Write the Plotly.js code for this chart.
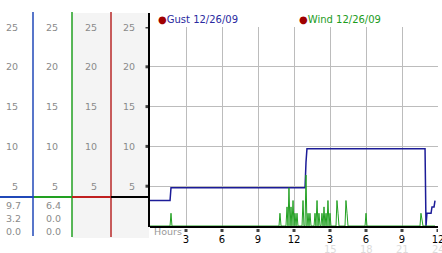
<!DOCTYPE html>
<html>
<head>
<meta charset="utf-8">
<script src="https://cdn.plot.ly/plotly-3.0.1.min.js"></script>
<style>
  html, body { margin: 0; padding: 0; background: #fff; }
  #chart { width: 442px; height: 253px; }
</style>
</head>
<body>
<div id="chart"></div>
<script>
// ---- data ----
const gustHours = [0, 1.67, 1.75, 12.92, 13.0, 13.08, 22.92, 23.0, 23.08, 23.42, 23.5, 23.67, 23.75];
const gustMph   = [3.2, 3.2, 4.8, 4.8, 8.0, 9.7, 9.7, 0, 1.6, 1.6, 2.4, 2.4, 3.2];

const windHours = [0, 1.67, 1.75, 1.83, 10.75, 10.83, 10.92,
  11.33, 11.42, 11.5, 11.58, 11.67, 11.75, 11.83, 11.92, 12.0, 12.08, 12.17, 12.25, 12.33,
  12.67, 12.75, 12.83, 12.92, 13.0, 13.08, 13.17, 13.25, 13.33, 13.42,
  13.67, 13.75, 13.83, 13.92, 14.0, 14.08, 14.17,
  14.25, 14.33, 14.42, 14.5, 14.58, 14.67, 14.75, 14.83, 14.92, 15.0, 15.08,
  15.5, 15.58, 15.67, 15.75, 16.25, 16.33, 16.42, 16.5, 17.92, 18.0, 18.08,
  22.5, 22.58, 22.67, 22.75, 23.75];
const windMph = [0, 0, 1.6, 0, 0, 1.6, 0,
  0, 2.4, 0, 4.8, 0, 2.4, 0, 3.2, 0, 1.6, 0, 1.6, 0,
  0, 3.2, 0, 0, 6.4, 0, 1.6, 0, 1.6, 0,
  0, 1.6, 0, 3.2, 0, 1.6, 0,
  0, 1.6, 0, 2.4, 0, 1.6, 0, 3.2, 0, 1.6, 0,
  0, 3.2, 1.6, 0, 0, 3.2, 1.6, 0, 0, 1.6, 0,
  0, 1.6, 0.8, 0, 0];

const yTickVals = [5, 10, 15, 20, 25];
const xTickVals = [3, 6, 9, 12, 15, 18, 21, 24];
const xTickText = ['3', '6', '9', '12', '3', '6', '9', '12'];
const xTickText24 = ['15', '18', '21', '24'];
const xTick24Vals = [15, 18, 21, 24];
const gustStats = ['9.7', '3.2', '0.0'];
const windStats = ['6.4', '0.0', '0.0'];
const gustLabel = 'Gust 12/26/09';
const windLabel = 'Wind 12/26/09';

// ---- geometry helpers (page px -> paper) ----
const L = 150, R = 438, T = 27, B = 226;
const px2x = p => (p - L) / (R - L);
const py2y = p => (B - p) / (B - T);

const font = 'DejaVu Sans, Verdana, sans-serif';
const grey = '#8a8a8a';

const traces = [
  { x: gustHours, y: gustMph, type: 'scatter', mode: 'lines',
    line: { color: '#1c1c98', width: 1.5 }, hoverinfo: 'skip' },
  { x: windHours, y: windMph, type: 'scatter', mode: 'lines',
    line: { color: '#22a022', width: 1 }, hoverinfo: 'skip' }
];

const shapes = [];
function vline(px, y0, y1, color, w) {
  shapes.push({ type: 'line', xref: 'paper', yref: 'paper', x0: px2x(px), x1: px2x(px),
    y0: py2y(y0), y1: py2y(y1), line: { color: color, width: w }, layer: 'above' });
}
function hline(x0, x1, py, color, w) {
  shapes.push({ type: 'line', xref: 'paper', yref: 'paper', x0: px2x(x0), x1: px2x(x1),
    y0: py2y(py), y1: py2y(py), line: { color: color, width: w }, layer: 'above' });
}
// grey background behind columns 3 & 4
shapes.push({ type: 'rect', xref: 'paper', yref: 'paper', x0: px2x(72), x1: px2x(149),
  y0: py2y(238), y1: py2y(13), fillcolor: '#f4f4f4', line: { width: 0 }, layer: 'below' });
vline(33, 12, 236, '#2048b8', 1.5);
vline(72, 12, 237, '#22a022', 1.5);
vline(111, 12, 237, '#b82828', 1.5);
hline(0, 34, 197, '#2048b8', 2);
hline(34, 72, 197, '#22a022', 2);
hline(72, 111, 197, '#c02020', 2);
hline(111, 149, 197, '#000', 2);
vline(149, 13, 227, '#000', 2);

// small tick markers: left of the y axis and below each x tick
yTickVals.forEach(v => shapes.push({ type: 'rect', xref: 'paper', yref: 'y', ysizemode: 'pixel', yanchor: v,
  x0: px2x(145.5), x1: px2x(148), y0: -1.5, y1: 1.5, fillcolor: '#444', line: { width: 0 }, layer: 'above' }));
xTickVals.forEach(v => shapes.push({ type: 'rect', xref: 'x', xsizemode: 'pixel', xanchor: v, yref: 'paper',
  x0: -1.5, x1: 1.5, y0: py2y(232), y1: py2y(229), fillcolor: '#444', line: { width: 0 }, layer: 'above' }));

const annotations = [];
const colRights = [20, 60, 99, 137];
colRights.forEach(xr => {
  yTickVals.forEach(v => {
    annotations.push({ xref: 'paper', yref: 'y', x: px2x(xr), y: v, xanchor: 'right', yanchor: 'middle',
      text: String(v), showarrow: false, font: { family: font, size: 9.5, color: grey } });
  });
});
const statY = [205, 218, 232];
gustStats.forEach((s, i) => annotations.push({ xref: 'paper', yref: 'paper', x: px2x(23), y: py2y(statY[i]),
  xanchor: 'right', yanchor: 'middle', text: s, showarrow: false, font: { family: font, size: 9.5, color: grey } }));
windStats.forEach((s, i) => annotations.push({ xref: 'paper', yref: 'paper', x: px2x(63), y: py2y(statY[i]),
  xanchor: 'right', yanchor: 'middle', text: s, showarrow: false, font: { family: font, size: 9.5, color: grey } }));
annotations.push({ xref: 'paper', yref: 'paper', x: px2x(152), y: py2y(232), xanchor: 'left', yanchor: 'middle',
  text: 'Hours', showarrow: false, font: { family: font, size: 9.5, color: '#999' } });
xTick24Vals.forEach((v, i) => annotations.push({ xref: 'x', yref: 'paper', x: v, y: py2y(249),
  xanchor: 'center', yanchor: 'middle', text: xTickText24[i], showarrow: false,
  font: { family: font, size: 10, color: '#dcdcdc' } }));
annotations.push({ xref: 'paper', yref: 'paper', x: px2x(156), y: py2y(20), xanchor: 'left', yanchor: 'middle',
  showarrow: false, text: '<span style="color:#a00000">●</span><span style="color:#2a2aa0">' + gustLabel + '</span>',
  font: { family: font, size: 10 } });
annotations.push({ xref: 'paper', yref: 'paper', x: px2x(297), y: py2y(20), xanchor: 'left', yanchor: 'middle',
  showarrow: false, text: '<span style="color:#a00000">●</span><span style="color:#1c9c1c">' + windLabel + '</span>',
  font: { family: font, size: 10 } });

const layout = {
  width: 442, height: 253,
  margin: { l: L, r: 442 - R, t: T, b: 253 - B, pad: 0 },
  paper_bgcolor: '#fff', plot_bgcolor: '#fff',
  showlegend: false,
  xaxis: { range: [0, 24], tickvals: xTickVals, ticktext: xTickText, showgrid: true, gridcolor: '#bcbcbc',
    gridwidth: 1, zeroline: false, showline: true, linecolor: '#000', linewidth: 2, ticks: '',
    ticklabelstandoff: 3, ticklabeloverflow: 'allow', tickfont: { family: font, size: 10, color: '#000' } },
  yaxis: { range: [0, 25], tickvals: yTickVals, showticklabels: false, showgrid: true, gridcolor: '#bcbcbc',
    gridwidth: 1, zeroline: false, showline: false, ticks: '' },
  shapes: shapes,
  annotations: annotations
};

Plotly.newPlot('chart', traces, layout, { displayModeBar: false, staticPlot: true });
</script>
</body>
</html>
